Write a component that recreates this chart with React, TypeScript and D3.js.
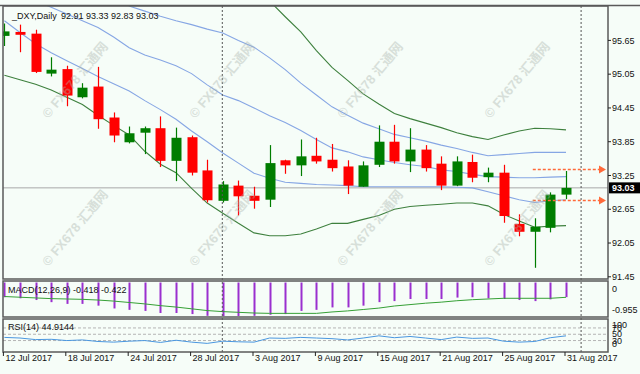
import React from "react";
import * as d3 from "d3";

// ---- data ----
const symbol = "_DXY,Daily";

const dates = [
  "12 Jul 2017", "13 Jul 2017", "14 Jul 2017", "17 Jul 2017", "18 Jul 2017", "19 Jul 2017",
  "20 Jul 2017", "21 Jul 2017", "24 Jul 2017", "25 Jul 2017", "26 Jul 2017", "27 Jul 2017",
  "28 Jul 2017", "31 Jul 2017", "1 Aug 2017", "2 Aug 2017", "3 Aug 2017", "4 Aug 2017",
  "7 Aug 2017", "8 Aug 2017", "9 Aug 2017", "10 Aug 2017", "11 Aug 2017", "14 Aug 2017",
  "15 Aug 2017", "16 Aug 2017", "17 Aug 2017", "18 Aug 2017", "21 Aug 2017", "22 Aug 2017",
  "23 Aug 2017", "24 Aug 2017", "25 Aug 2017", "28 Aug 2017", "29 Aug 2017", "30 Aug 2017",
  "31 Aug 2017",
];

const open = [
  95.73, 95.8, 95.77, 95.06, 95.14, 94.64, 94.83, 94.28, 93.84, 94.01, 94.09, 93.51, 93.93,
  93.34, 92.8, 93.07, 92.89, 92.82, 93.52, 93.43, 93.6, 93.53, 93.41, 93.05, 93.44, 93.85,
  93.5, 93.71, 93.46, 93.07, 93.49, 93.22, 93.3, 92.39, 92.25, 92.32, 92.91,
];
const high = [
  95.95, 95.93, 95.84, 95.35, 95.2, 94.89, 95.18, 94.37, 94.12, 94.12, 94.3, 94.1, 93.96,
  93.53, 93.15, 93.16, 93.05, 93.79, 93.53, 93.89, 93.92, 93.81, 93.52, 93.5, 94.14, 94.15,
  94.09, 93.79, 93.59, 93.59, 93.62, 93.39, 93.44, 92.56, 92.49, 92.95, 93.33,
];
const low = [
  95.55, 95.44, 95.07, 95.01, 94.48, 94.62, 94.08, 93.84, 93.82, 93.63, 93.4, 93.15, 93.25,
  92.77, 92.77, 92.54, 92.66, 92.69, 93.28, 93.24, 93.46, 93.32, 92.92, 93.05, 93.4, 93.46,
  93.31, 93.32, 92.99, 93.06, 93.13, 93.13, 92.41, 92.17, 91.61, 92.24, 92.83,
];
const close = [
  95.81, 95.75, 95.09, 95.13, 94.67, 94.81, 94.25, 93.96, 94.0, 94.09, 93.51, 93.92, 93.3,
  92.81, 93.09, 92.88, 92.8, 93.47, 93.43, 93.59, 93.5, 93.38, 93.07, 93.43, 93.85, 93.5,
  93.71, 93.38, 93.07, 93.5, 93.21, 93.3, 92.53, 92.25, 92.34, 92.91, 93.03,
];

// bands (outer pair green, inner three blue)
const bandUpper2 = [
  97.79, 97.84, 97.88, 97.86, 97.79, 97.7, 97.61, 97.43, 97.22, 97.11, 97.08, 97.08, 97.04,
  96.95, 96.85, 96.72, 96.58, 96.35, 96.07, 95.8, 95.47, 95.17, 94.94, 94.7, 94.52, 94.35,
  94.26, 94.18, 94.1, 94.01, 93.94, 93.89, 93.97, 94.04, 94.09, 94.08, 94.06,
];
const bandUpper1 = [
  97.2, 97.16, 97.11, 97.04, 96.95, 96.84, 96.75, 96.55, 96.26, 96.17, 96.08, 96.0, 95.93,
  95.85, 95.78, 95.65, 95.53, 95.34, 95.13, 94.89, 94.68, 94.47, 94.32, 94.18, 94.08, 93.98,
  93.92, 93.86, 93.79, 93.73, 93.66, 93.6, 93.62, 93.64, 93.66, 93.66, 93.66,
];
const bandMiddle = [
  96.6, 96.47, 96.35, 96.24, 96.12, 96.0, 95.88, 95.71, 95.52, 95.39, 95.3, 95.2, 95.06,
  94.86, 94.68, 94.58, 94.45, 94.31, 94.19, 94.05, 93.89, 93.74, 93.67, 93.58, 93.53, 93.48,
  93.44, 93.41, 93.35, 93.32, 93.27, 93.23, 93.22, 93.21, 93.21, 93.22, 93.23,
];
const bandLower1 = [
  96.0, 95.79, 95.59, 95.43, 95.29, 95.15, 95.01, 94.88, 94.75, 94.58, 94.42, 94.25, 94.04,
  93.85, 93.65, 93.47, 93.29, 93.2, 93.13, 93.11, 93.09, 93.08, 93.07, 93.05, 93.05, 93.05,
  93.05, 93.05, 93.05, 93.04, 93.03, 92.96, 92.89, 92.82, 92.77, 92.8, 92.82,
];
const bandLower2 = [
  95.03, 94.95, 94.87, 94.77, 94.64, 94.51, 94.32, 94.14, 93.97, 93.68, 93.45, 93.3, 93.02,
  92.76, 92.58, 92.4, 92.23, 92.18, 92.18, 92.21, 92.3, 92.4, 92.4, 92.47, 92.54, 92.65,
  92.7, 92.72, 92.74, 92.76, 92.76, 92.71, 92.56, 92.44, 92.33, 92.35, 92.36,
];

const macdHist = [
  -0.42, -0.45, -0.5, -0.56, -0.61, -0.61, -0.66, -0.74, -0.78, -0.81, -0.87, -0.87, -0.9,
  -0.95, -0.955, -0.955, -0.95, -0.92, -0.9, -0.81, -0.78, -0.71, -0.71, -0.66, -0.56, -0.53,
  -0.47, -0.47, -0.47, -0.43, -0.42, -0.45, -0.47, -0.5, -0.53, -0.48, -0.418,
];
const macdSignal = [
  -0.4, -0.42, -0.44, -0.46, -0.47, -0.48, -0.5, -0.53, -0.57, -0.61, -0.66, -0.7, -0.75,
  -0.8, -0.83, -0.85, -0.87, -0.88, -0.88, -0.88, -0.88, -0.84, -0.81, -0.77, -0.73, -0.67,
  -0.63, -0.59, -0.56, -0.52, -0.49, -0.47, -0.45, -0.45, -0.45, -0.45, -0.422,
];
const rsi = [
  40, 38, 33, 34, 30, 32, 27, 25, 28, 30, 24, 31, 25, 21, 28, 26, 25, 38, 37, 40, 38, 36,
  32, 38, 45, 39, 43, 38, 33, 41, 37, 38, 28, 25, 27, 39, 44.9144,
];

const priceTicks = [95.65, 95.05, 94.45, 93.85, 93.25, 92.65, 92.05, 91.45];
const macdTicks = [0, -0.955];
const rsiTicks = [100, 70, 50, 30, 0];
const rsiLevels = [70, 50, 30];
const arrowLevels = [93.37, 92.82];
const monthSeparators = [14, 37];
const tickEvery = 4;

const W = 640;
const H = 374;
const L = 3;
const R = 608;
const main = { top: 6, bottom: 279 };
const macdP = { top: 281, bottom: 317 };
const rsiP = { top: 319, bottom: 352 };
const FONT = "'Liberation Sans', Arial, sans-serif";

const BULL = "#007d00";
const BEAR = "#ff0000";
const BLUE = "#86a6e4";
const GREEN = "#3e803e";

export default function App() {
  const x = d3.scaleLinear().domain([0, dates.length - 1]).range([4.4, 566]);
  const y = d3.scaleLinear().domain([91.45, 95.65]).range([276.8, 40.4]);
  const ym = d3.scaleLinear().domain([-0.955, 0]).range([316, 282.5]);
  const yr = d3.scaleLinear().domain([0, 100]).range([350, 318.5]);

  const bandLine = (arr: number[]) =>
    d3.line<number>().x((_, i) => x(i)).y((d) => y(d))(arr) || "";

  const signalPath =
    d3.line<number>().x((_, i) => x(i)).y((d) => ym(d))(macdSignal) || "";
  const rsiPath = d3.line<number>().x((_, i) => x(i)).y((d) => yr(d))(rsi) || "";

  const last = dates.length - 1;
  const fmt = d3.format(".2f");
  // faint site watermark, repeated
  const wmX = [75, 222, 370, 517];
  const wmY = [80, 228];

  return (
    <svg
      width={W}
      height={H}
      style={{ position: "absolute", left: 0, top: 0, background: "#f6fdf8" }}
      fontFamily={FONT}
    >
      <defs>
        <clipPath id="mainClip">
          <rect x={L} y={main.top} width={R - L} height={main.bottom - main.top} />
        </clipPath>
        <clipPath id="macdClip">
          <rect x={L} y={macdP.top} width={R - L} height={macdP.bottom - macdP.top} />
        </clipPath>
        <clipPath id="rsiClip">
          <rect x={L} y={rsiP.top} width={R - L} height={rsiP.bottom - rsiP.top} />
        </clipPath>
      </defs>
      <rect width={W} height={H} fill="#f6fdf8" />

      {/* main price panel */}
      <g clipPath="url(#mainClip)">
        <line x1={L} x2={R} y1={y(close[last])} y2={y(close[last])} stroke="#a8a8a8" />
        {[bandUpper2, bandLower2].map((b, k) => (
          <path key={"g" + k} d={bandLine(b)} fill="none" stroke={GREEN} strokeWidth={1.1} />
        ))}
        {[bandUpper1, bandMiddle, bandLower1].map((b, k) => (
          <path key={"b" + k} d={bandLine(b)} fill="none" stroke={BLUE} strokeWidth={1.1} />
        ))}
        {dates.map((_, i) => {
          const up = close[i] >= open[i];
          const c = up ? BULL : BEAR;
          const top = y(Math.max(open[i], close[i]));
          const bot = y(Math.min(open[i], close[i]));
          const cx = Math.round(x(i)) + 0.5;
          return (
            <g key={i}>
              <line x1={cx} x2={cx} y1={y(high[i])} y2={y(low[i])} stroke={c} strokeWidth={1.2} />
              <rect x={cx - 5} y={top} width={10} height={Math.max(1.5, bot - top)} fill={c} />
            </g>
          );
        })}
        {arrowLevels.map((v, k) => {
          const yy = Math.round(y(v)) + 0.5;
          const x0 = x(last - 2) - 2;
          return (
            <g key={k}>
              <line x1={x0} x2={599} y1={yy} y2={yy} stroke="#ff6a3a" strokeWidth={1.6} strokeDasharray="3 2" />
              <path d={`M599,${yy - 4}L606,${yy}L599,${yy + 4}Z`} fill="#ff6a3a" />
            </g>
          );
        })}
      </g>

      {/* MACD panel */}
      <g clipPath="url(#macdClip)">
        {macdHist.map((v, i) => (
          <line
            key={i}
            x1={Math.round(x(i)) + 0.5}
            x2={Math.round(x(i)) + 0.5}
            y1={ym(0)}
            y2={ym(v)}
            stroke="#9a2fcf"
            strokeWidth={2}
          />
        ))}
        <path d={signalPath} fill="none" stroke="#35a035" strokeWidth={1} />
      </g>

      {/* RSI panel */}
      <g clipPath="url(#rsiClip)">
        {rsiLevels.map((v) => (
          <line key={v} x1={L} x2={R} y1={yr(v)} y2={yr(v)} stroke="#b4b4b4" strokeDasharray="3 2" />
        ))}
        <path d={rsiPath} fill="none" stroke="#4a97e0" strokeWidth={1} />
      </g>

      {/* month separators */}
      {monthSeparators.map((s) => (
        <line
          key={s}
          x1={x(s) - 0.5}
          x2={x(s) - 0.5}
          y1={main.top}
          y2={rsiP.bottom}
          stroke="#555"
          strokeDasharray="2 2"
        />
      ))}

      {/* frames */}
      <line x1={0} x2={W} y1={5.5} y2={5.5} stroke="#5a5a5a" strokeWidth={1.5} />
      {[main, macdP, rsiP].map((p, k) => (
        <rect
          key={k}
          x={L}
          y={p.top}
          width={R - L}
          height={p.bottom - p.top}
          fill="none"
          stroke="#5a5a5a"
          strokeWidth={1.5}
        />
      ))}

      {/* right price axis */}
      {priceTicks.map((t) => (
        <g key={t}>
          <line x1={R} x2={R + 3} y1={y(t)} y2={y(t)} stroke="#222" />
          <text x={612} y={y(t)} dy="0.35em" fontSize={9} fill="#111">
            {fmt(t)}
          </text>
        </g>
      ))}
      <rect x={R + 1} y={y(close[last]) - 5.5} width={W - R - 1} height={11} fill="#000" />
      <text x={612} y={y(close[last])} dy="0.35em" fontSize={9} fill="#fff" fontWeight="bold">
        {fmt(close[last])}
      </text>

      {macdTicks.map((t) => (
        <text
          key={t}
          x={612}
          y={Math.min(310, Math.max(289, ym(t)))}
          dy="0.35em"
          fontSize={9}
          fill="#111"
        >
          {t === 0 ? "0" : String(t)}
        </text>
      ))}
      {rsiTicks.map((t) => (
        <text
          key={t}
          x={612}
          y={Math.min(344, Math.max(325, yr(t)))}
          dy="0.35em"
          fontSize={9}
          fill="#111"
        >
          {t}
        </text>
      ))}

      {/* date axis */}
      {dates.map((d, i) =>
        i % tickEvery === 0 ? (
          <g key={d}>
            <line x1={x(i) - 1} x2={x(i) - 1} y1={rsiP.bottom} y2={rsiP.bottom + 4} stroke="#222" />
            <text x={x(i) + 1} y={361} fontSize={9} fill="#111">
              {d}
            </text>
          </g>
        ) : null
      )}

      {/* labels */}
      <text x={12} y={18.5} fontSize={9} fill="#111">
        {symbol}
      </text>
      <text x={61} y={18.5} fontSize={9} fill="#111">
        {[open[last], high[last], low[last], close[last]].map(fmt).join(" ")}
      </text>
      <text x={8} y={292.5} fontSize={9} fill="#111">
        {`MACD(12,26,9) ${macdHist[last].toFixed(3)} ${macdSignal[last].toFixed(3)}`}
      </text>
      <text x={8} y={330} fontSize={9} fill="#111">
        {`RSI(14) ${rsi[last]}`}
      </text>

      {/* watermark */}
      {wmX.map((wx) =>
        wmY.map((wy) => (
          <text
            key={wx + "-" + wy}
            x={wx}
            y={wy}
            transform={`rotate(-50 ${wx} ${wy})`}
            textAnchor="middle"
            dy="0.35em"
            fontSize={13}
            fontWeight="bold"
            fill="#aab4ad"
            opacity={0.4}
            fontFamily={"'Liberation Sans', 'Noto Sans CJK SC', sans-serif"}
          >
            © FX678 汇通网
          </text>
        ))
      )}
    </svg>
  );
}
